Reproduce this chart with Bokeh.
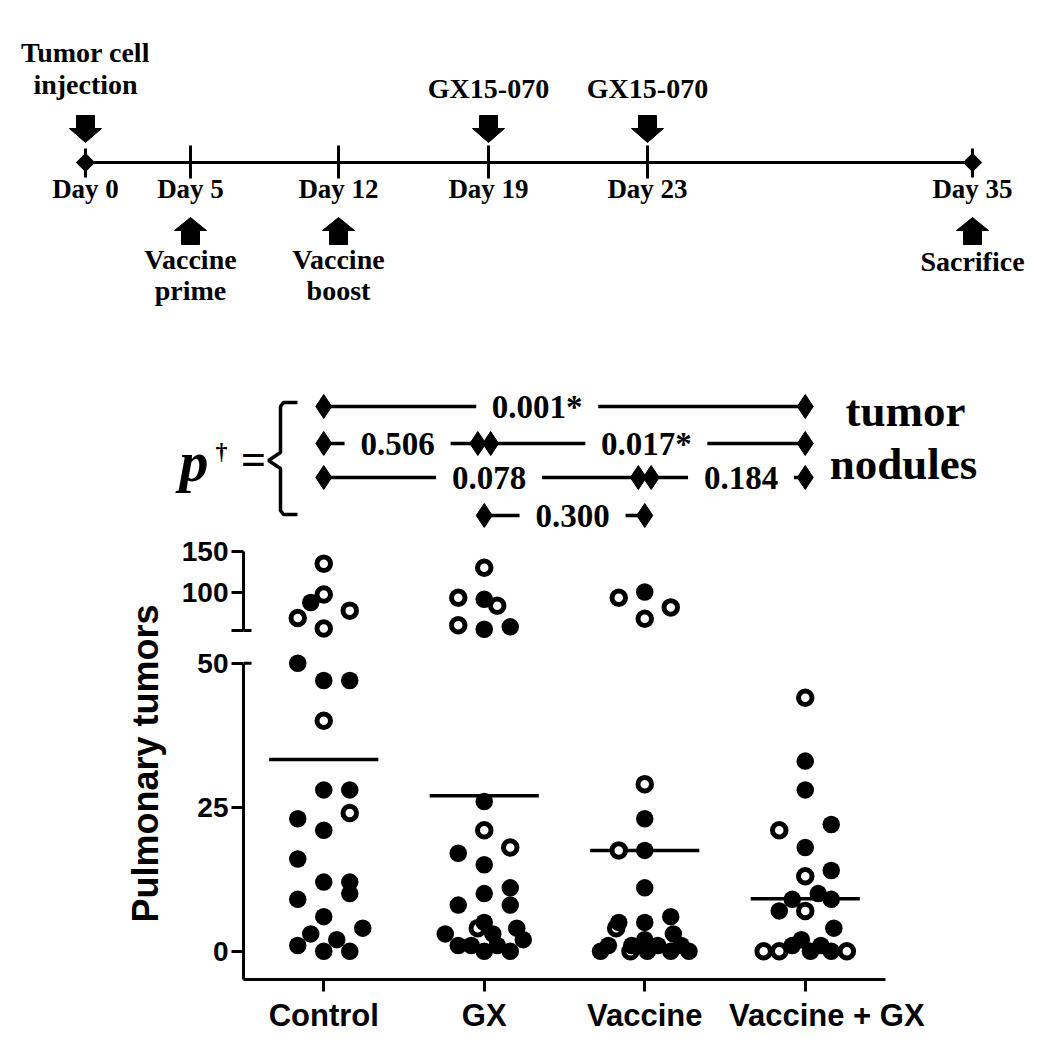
import numpy as np
from bokeh.plotting import figure
from bokeh.layouts import column, row
from bokeh.models import Range1d, FixedTicker
from bokeh.core.properties import value
from bokeh.embed import file_html
from bokeh.resources import INLINE

# ---------------- data ----------------
groups = ["Control", "GX", "Vaccine", "Vaccine + GX"]

control_vals = [135, 97, 87, 77, 68, 55, 50, 47, 47, 40, 28, 28, 24, 23, 21, 16, 12, 12, 10, 9, 6, 4, 3, 2, 1, 0, 0]
control_jit = [0, 0, -0.5, 1, -1, 0, -1, 0, 1, 0, 0, 1, 1, -1, 0, -1, 0, 1, 1, -1, 0, 1.5, -0.5, 0.5, -1, 0, 1]
control_open = [1, 1, 0, 1, 1, 1, 0, 0, 0, 1, 0, 0, 1, 0, 0, 0, 0, 0, 0, 0, 0, 0, 0, 0, 0, 0, 0]

gx_vals = [130, 93, 91, 83, 59, 57, 54, 26, 21, 18, 17, 15, 11, 10, 8, 8, 5, 4, 4, 3, 3, 2, 1, 1, 1, 0, 0]
gx_jit = [0, -1, 0, 0.5, -1, 1, 0, 0, 0, 1, -1, 0, 1, 0, -1, 1, 0, -0.25, 1.25, -1.5, 0.33, 1.5, -1, -0.5, 0.5, 0, 1]
gx_open = [1, 1, 0, 1, 1, 0, 0, 0, 1, 1, 0, 0, 0, 0, 0, 0, 0, 1, 0, 0, 0, 0, 0, 0, 0, 0, 0]

vac_vals = [100, 93, 81, 67, 29, 23, 17.5, 17.5, 11, 6, 5, 5, 4, 2, 3, 1, 1, 1, 1, 0, 0, 0, 0, 0]
vac_jit = [0, -1, 1, 0, 0, 0, -1, 0, 0, 1, -1, 0, -1.1, 0, 1.1, -1.4, -0.5, 0.5, 1.4, -1.7, -0.55, 0.1, 1, 1.7]
vac_open = [0, 1, 1, 1, 1, 0, 1, 0, 0, 0, 0, 0, 1, 0, 0, 0, 0, 0, 0, 0, 1, 0, 0, 0]

vgx_vals = [44, 33, 28, 22, 21, 18, 14, 13, 10, 9, 9, 7, 7, 4, 2, 1, 1, 0, 0, 0, 0, 0]
vgx_jit = [0, 0, 0, 1, -1, 0, 1, 0, 0.5, -0.5, 1, -1, 0, 1.1, -0.15, -0.5, 0.6, -1.6, -1, 0.2, 1, 1.6]
vgx_open = [1, 0, 0, 0, 1, 0, 0, 1, 0, 0, 0, 0, 1, 0, 0, 0, 0, 1, 1, 0, 0, 1]

means = [33.3, 27.0, 17.5, 9.1]

lower_ticks = [0, 25, 50]
upper_ticks = [100, 150]
break_low = 50      # top of lower segment
break_high = 52.5   # bottom of upper segment

comparisons = [(0, 3), (0, 1), (1, 3), (0, 2), (2, 3), (1, 2)]
p_labels = ["0.001*", "0.506", "0.017*", "0.078", "0.184", "0.300"]
p_rows = [0, 1, 1, 2, 2, 3]
p_label_pos = [1.33, 0.46, 2.01, 1.03, 2.6, 1.55]

days = ["Day 0", "Day 5", "Day 12", "Day 19", "Day 23", "Day 35"]
down_events = {0: ["Tumor cell", "injection"], 3: ["GX15-070"], 4: ["GX15-070"]}
up_events = {1: ["Vaccine", "prime"], 2: ["Vaccine", "boost"], 5: ["Sacrifice"]}

# ---------------- layout constants (page pixels) ----------------
TL_X = [85, 190, 338, 488, 647, 972]   # schematic (not to scale) timeline
TL_Y = 162
ROW_Y = [406, 443, 477, 515]
JIT = 0.162
SERIF = value("Liberation Serif")
SANS = value("Liberation Sans")
K = "black"
FRAME_L, FRAME_R = 243, 885
CAT_PX = (FRAME_R - FRAME_L) / 4.0
W_LAB = 168
A_H = 535

# ---------------- figure A: timeline + p values ----------------
A = figure(width=1030, height=A_H, x_range=Range1d(0, 1030), y_range=Range1d(A_H, 0),
           x_axis_location=None, y_axis_location=None, min_border=0, title=None,
           toolbar_location=None, output_backend="svg", outline_line_color=None)
A.grid.visible = False
A.extra_x_ranges = {"cat": Range1d(-0.5 - FRAME_L / CAT_PX, -0.5 + (1030 - FRAME_L) / CAT_PX)}

A.line(x=[TL_X[0], TL_X[-1]], y=[TL_Y, TL_Y], line_width=3, line_color=K)
A.segment(x0=TL_X[1:5], y0=[145] * 4, x1=TL_X[1:5], y1=[178] * 4, line_width=3, line_color=K)
ends = [TL_X[0], TL_X[-1]]
A.segment(x0=ends, y0=[148, 148], x1=ends, y1=[177, 177], line_width=3, line_color=K)
A.scatter(x=ends, y=[TL_Y, TL_Y], marker="square", angle=np.pi / 4, size=13,
          fill_color=K, line_color=K)
A.text(x=TL_X, y=[188] * 6, text=days, text_align="center", text_baseline="middle",
       text_font=SERIF, text_font_style="bold", text_font_size="27px", text_color=K)

xs_d, ys_d = [], []
for i in down_events:
    x = TL_X[i]
    xs_d.append([x - 9, x + 9, x + 9, x + 16, x, x - 16, x - 9])
    ys_d.append([115, 115, 128, 128, 142, 128, 128])
for i in up_events:
    x = TL_X[i]
    xs_d.append([x, x + 16, x + 9, x + 9, x - 9, x - 9, x - 16])
    ys_d.append([217, 230, 230, 244, 244, 230, 230])
A.patches(xs=xs_d, ys=ys_d, fill_color=K, line_color=K)

tx, ty, tt = [], [], []
for i, lines in down_events.items():
    mids = [52, 84] if len(lines) == 2 else [88]
    for ln, m in zip(lines, mids):
        tx.append(TL_X[i]); ty.append(m); tt.append(ln)
for i, lines in up_events.items():
    mids = [259, 290] if len(lines) == 2 else [261]
    for ln, m in zip(lines, mids):
        tx.append(TL_X[i]); ty.append(m); tt.append(ln)
A.text(x=tx, y=ty, text=tt, text_align="center", text_baseline="middle",
       text_font=SERIF, text_font_style="bold", text_font_size="28px", text_color=K)

# p-value bracket and labels
A.line(x=[297, 283, 280, 280, 268, 280, 280, 283, 297],
       y=[402, 402, 406, 452, 460, 468, 510, 514, 514], line_width=3.5, line_color=K)
A.text(x=[179], y=[461], text=["p"], text_font=SERIF, text_font_style="bold italic",
       text_font_size="58px", text_baseline="middle", text_color=K)
A.text(x=[221], y=[450], text=["\u2020"], text_font=SERIF, text_font_style="bold",
       text_font_size="24px", text_align="center", text_baseline="middle", text_color=K)
A.text(x=[253], y=[459], text=["="], text_font=SERIF, text_font_style="bold",
       text_font_size="44px", text_align="center", text_baseline="middle", text_color=K)
A.text(x=[905, 903], y=[410, 463], text=["tumor", "nodules"], text_font=SERIF,
       text_font_style="bold", text_font_size="45px", text_align="center",
       text_baseline="middle", text_color=K)

d = 0.04
x0s, x1s, rys = [], [], []
for k, (a, b) in enumerate(comparisons):
    r = p_rows[k]
    same = [comparisons[j] for j in range(len(comparisons)) if p_rows[j] == r and j != k]
    xa = a + d if any(c[1] == a for c in same) else a
    xb = b - d if any(c[0] == b for c in same) else b
    x0s.append(xa); x1s.append(xb); rys.append(ROW_Y[r])
A.segment(x0=x0s, y0=rys, x1=x1s, y1=rys, line_width=3.5, line_color=K, x_range_name="cat")
gap = [16 * len(s) + 26 for s in p_labels]
A.rect(x=p_label_pos, y=rys, width=gap, height=[30] * len(gap), width_units="screen",
       height_units="screen", fill_color="white", line_color=None, x_range_name="cat")
A.scatter(x=x0s + x1s, y=rys + rys, marker="diamond", size=24, fill_color=K, line_color=K,
          x_range_name="cat")
A.text(x=p_label_pos, y=rys, text=p_labels, text_align="center",
       text_baseline="middle", text_font=SERIF, text_font_style="bold",
       text_font_size="33px", text_color=K, x_range_name="cat")

# ---------------- scatter data prep ----------------
allv, allx, allo = [], [], []
for gi, (v, j, o) in enumerate([(control_vals, control_jit, control_open),
                                 (gx_vals, gx_jit, gx_open),
                                 (vac_vals, vac_jit, vac_open),
                                 (vgx_vals, vgx_jit, vgx_open)]):
    for vv, jj, oo in zip(v, j, o):
        allv.append(vv); allx.append(gi + jj * JIT); allo.append(oo)
allv = np.array(allv, float); allx = np.array(allx); allo = np.array(allo)


def style_axis(ax, fs="28px"):
    ax.axis_line_width = 3
    ax.axis_line_color = K
    ax.major_tick_line_width = 3
    ax.major_tick_line_color = K
    ax.major_tick_out = 12
    ax.major_tick_in = 0
    ax.minor_tick_line_color = None
    ax.major_label_text_font = "Liberation Sans"
    ax.major_label_text_font_style = "bold"
    ax.major_label_text_font_size = fs
    ax.major_label_text_color = K
    ax.major_label_standoff = 3


def draw_points(p, mask):
    m_open = mask & (allo == 1)
    m_fill = mask & (allo == 0)
    p.scatter(x=allx[m_open], y=allv[m_open], marker="circle", size=13.5,
              fill_color="white", line_color=K, line_width=5)
    p.scatter(x=allx[m_fill], y=allv[m_fill], marker="circle", size=17.5,
              fill_color=K, line_color=None)


BW = 1030 - W_LAB
B_LEFT = FRAME_L - W_LAB
B_RIGHT = BW - (FRAME_R - W_LAB)

# upper segment (frame page y 541..640)
U_lo, U_hi = 100 - 48.5 / 0.81, 100 + 50.5 / 0.81
B1 = figure(width=BW, height=644 - A_H, x_range=Range1d(-0.5, 3.5),
            y_range=Range1d(U_lo, U_hi), x_axis_location=None,
            min_border_left=B_LEFT, min_border_right=B_RIGHT,
            min_border_top=541 - A_H, min_border_bottom=4, title=None,
            toolbar_location=None, output_backend="svg", outline_line_color=None)
B1.grid.visible = False
style_axis(B1.yaxis[0])
B1.yaxis[0].ticker = FixedTicker(ticks=[break_high] + upper_ticks)
B1.yaxis[0].major_label_overrides = {break_high: "", **{t: str(t) for t in upper_ticks}}
B1.yaxis[0].bounds = (break_high, upper_ticks[-1])
B1.segment(x0=[-0.5], y0=[break_high], x1=[-0.5 + 8 / CAT_PX], y1=[break_high],
           line_width=3, line_color=K)
draw_points(B1, allv > break_low)

# lower segment (page y 644..1042, frame 647..979)
L_lo, L_hi = -(979 - 950.7) / 5.76, (950.7 - 647) / 5.76
B2 = figure(width=BW, height=398, x_range=Range1d(-0.5, 3.5), y_range=Range1d(L_lo, L_hi),
            min_border_left=B_LEFT, min_border_right=B_RIGHT, min_border_top=3,
            min_border_bottom=63, title=None, toolbar_location=None, output_backend="svg",
            outline_line_color=None)
B2.grid.visible = False
style_axis(B2.yaxis[0])
B2.yaxis[0].ticker = FixedTicker(ticks=lower_ticks)
B2.yaxis[0].bounds = (L_lo, break_low)
xa = B2.xaxis[0]
style_axis(xa, "31px")
xa.ticker = FixedTicker(ticks=list(range(len(groups))))
# last label sits slightly right of its tick in the original
xa.major_label_overrides = {i: ("\u00a0" * 5 + g if i == len(groups) - 1 else g)
                            for i, g in enumerate(groups)}
xa.major_label_standoff = 6
B2.segment(x0=[-0.5], y0=[break_low], x1=[-0.5 + 8 / CAT_PX], y1=[break_low],
           line_width=3, line_color=K)
gi = np.arange(len(groups))
B2.segment(x0=gi - 0.34, y0=means, x1=gi + 0.34, y1=means, line_width=3.5, line_color=K)
draw_points(B2, allv <= break_low)

# y label column
L = figure(width=W_LAB, height=1042 - A_H, x_range=Range1d(0, W_LAB),
           y_range=Range1d(1042, A_H), x_axis_location=None, y_axis_location=None,
           min_border=0, title=None, toolbar_location=None, output_backend="svg",
           outline_line_color=None)
L.grid.visible = False
L.text(x=[145], y=[763], text=["Pulmonary tumors"], angle=np.pi / 2, text_align="center",
       text_baseline="middle", text_font=SANS, text_font_style="bold",
       text_font_size="36px", text_color=K)

layout = column(A, row(L, column(B1, B2)))
open("out.html", "w").write(file_html(layout, INLINE))
